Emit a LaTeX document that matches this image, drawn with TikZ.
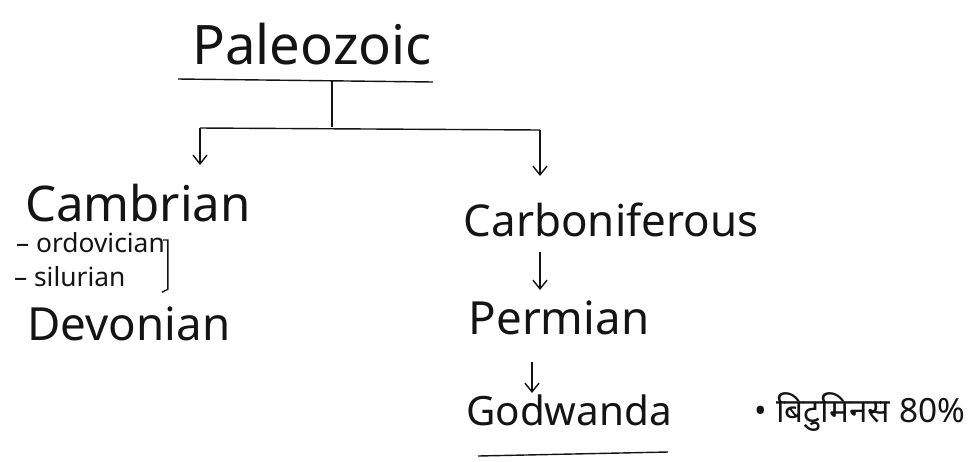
\documentclass[tikz,border=0pt]{standalone}
\usepackage{fontspec}
\setmainfont{Noto Sans}
\newfontfamily\hindifont[Script=Devanagari]{Noto Sans}
\usetikzlibrary{arrows.meta, positioning}
\definecolor{inkblack}{RGB}{20,20,20}

\begin{document}
\begin{tikzpicture}[x=0.02cm, y=-0.02cm, font=\fontsize{26}{28}\selectfont,
		era/.style={inner sep=1pt, text=inkblack},
		sub/.style={inner sep=1pt, font=\fontsize{15}{17}\selectfont, text=inkblack},
		ln/.style={line width=0.8pt, inkblack},
		arr/.style={-{Straight Barb[length=5pt, width=8pt]}, line width=0.8pt, inkblack}]
		\useasboundingbox (0,0) rectangle (971,461);
		% title and its bars
		\node[era, font=\fontsize{31}{33}\selectfont] (pal) at (312,44) {Paleozoic};
		\coordinate (ulL) at (178,79);
		\coordinate (ulR) at (433,82);
		\coordinate (stemT) at (332,81);
		\coordinate (stemB) at (332,127);
		\coordinate (barL) at (200,128);
		\coordinate (barR) at (540,130);
		\draw[ln] (ulL) -- (ulR);
		\draw[ln] (stemT) -- (stemB);
		\draw[ln] (barL) -- (barR);
		% left branch
		\node[era, font=\fontsize{28}{30}\selectfont] (cam) at (138,203) {Cambrian};
		\node[sub, anchor=west] (ord) at (14,243) {-- ordovician};
		\node[sub, anchor=west] (sil) at (12,277) {-- silurian};
		\node[era] (dev) at (129,324) {Devonian};
		\coordinate (camin) at (200,165);
		\draw[arr] (barL) -- (camin);
		\draw[ln] (ord.east) ++(-4,-3) -- ++(5,0) coordinate (brT) -- (brT |- sil.south) -- ++(-6,3);
		% right branch
		\node[era, font=\fontsize{25}{27}\selectfont] (carb) at (611,220) {Carboniferous};
		\node[era] (perm) at (559,318) {Permian};
		\node[era, font=\fontsize{23}{25}\selectfont] (god) at (569,410) {Godwanda};
		\node[era, font=\hindifont\fontsize{19}{21}\selectfont] (bit) at (860,412) {• बिटुमिनस 80\%};
		\coordinate (carbin) at (540,176);
		\coordinate (permout) at (540,252);
		\coordinate (permin) at (540,290);
		\coordinate (godout) at (532,362);
		\coordinate (godin) at (532,393);
		\coordinate (godulL) at (478,456);
		\coordinate (godulR) at (668,452);
		\draw[arr] (barR) -- (carbin);
		\draw[arr] (permout) -- (permin);
		\draw[arr] (godout) -- (godin);
		\draw[ln] (godulL) -- (godulR);
	\end{tikzpicture}
\end{document}
